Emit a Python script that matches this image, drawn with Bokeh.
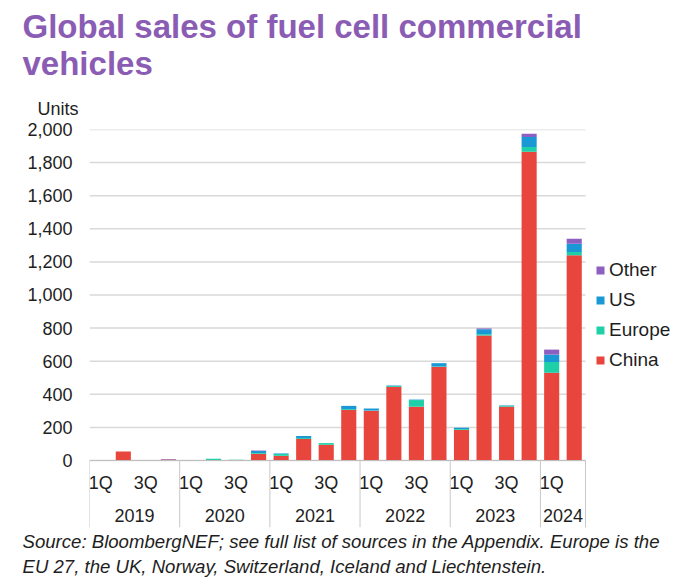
from bokeh.plotting import figure
from bokeh.models import (ColumnDataSource, FixedTicker, Legend, LegendItem,
                          NumeralTickFormatter, Range1d, Title)
from bokeh.embed import file_html
from bokeh.resources import INLINE
from bokeh.core.properties import value

# ---------------- data ----------------
years = ["2019", "2020", "2021", "2022", "2023", "2024"]
quarters_per_year = [4, 4, 4, 4, 4, 2]
quarter_names = ["1Q", "", "3Q", ""]
y_ticks = [0, 200, 400, 600, 800, 1000, 1200, 1400, 1600, 1800, 2000]

china  = [0, 55, 0, 6,   2, 2, 3, 40,   28, 130, 95, 305,   300, 445, 325, 565,   185, 755, 325, 1865,   530, 1240]
europe = [0, 0, 0, 0,    0, 8, 2, 5,    12, 6, 10, 5,       2, 5, 40, 3,          5, 8, 5, 30,           65, 20]
us     = [0, 0, 0, 0,    0, 0, 0, 12,   3, 12, 0, 20,       12, 3, 3, 20,         8, 30, 3, 60,          45, 50]
other  = [0, 0, 0, 3,    0, 0, 0, 3,    0, 0, 0, 0,         0, 0, 0, 0,           0, 5, 0, 20,           30, 30]

series = ["China", "Europe", "US", "Other"]
colors = ["#e8453c", "#1ecfa8", "#1a98d5", "#8c5fc0"]

# ---------------- derived positions ----------------
n = len(china)
x_pos = [i + 0.5 for i in range(n)]
source = ColumnDataSource(dict(x=x_pos, China=china, Europe=europe, US=us, Other=other))

bounds = [0]
for q in quarters_per_year:
    bounds.append(bounds[-1] + q)
year_centers = [(bounds[i] + bounds[i + 1]) / 2 for i in range(len(years))]

q_x, q_text = [], []
for yi, q in enumerate(quarters_per_year):
    for k in range(q):
        if quarter_names[k]:
            q_x.append(bounds[yi] + k + 0.5)
            q_text.append(quarter_names[k])

Y_BOTTOM = -405
FONT = "Liberation Sans"
TXT = "#1e1e1e"
PLOT_W = 496          # pixel width of the bar area
FRAME_W = 586         # frame extends to the right edge to hold the legend
X_END = bounds[-1] * FRAME_W / PLOT_W

p = figure(width=675, height=580, frame_width=FRAME_W, frame_height=398,
           output_backend="svg", toolbar_location=None,
           x_range=Range1d(0, X_END), y_range=Range1d(Y_BOTTOM, 2000),
           min_border_left=89, min_border_right=0, min_border_top=129, min_border_bottom=53,
           title=None)
p.outline_line_color = None
p.xaxis.visible = False
p.xgrid.visible = False
p.ygrid.visible = False
p.background_fill_color = "white"
p.border_fill_color = "white"

p.yaxis.ticker = FixedTicker(ticks=y_ticks)
p.yaxis.formatter = NumeralTickFormatter(format="0,0")
p.yaxis.axis_line_color = None
p.yaxis.major_tick_line_color = None
p.yaxis.minor_tick_line_color = None
p.yaxis.major_label_standoff = 11
p.yaxis.major_label_text_font = FONT
p.yaxis.major_label_text_font_size = "18px"
p.yaxis.major_label_text_color = TXT

# horizontal gridlines limited to the bar area
p.segment(x0=[0] * len(y_ticks), y0=y_ticks, x1=[bounds[-1]] * len(y_ticks), y1=y_ticks,
          line_color="#d9d9d9", line_width=1.5)

renderers = p.vbar_stack(series, x="x", width=0.67, color=colors, source=source, line_color=None)

# category axis drawn inside the extended frame
p.segment(x0=[bounds[0]], y0=[0], x1=[bounds[-1]], y1=[0], line_color="#bfbfbf", line_width=1)
p.segment(x0=bounds, y0=[0] * len(bounds), x1=bounds, y1=[Y_BOTTOM] * len(bounds),
          line_color="#c8c8c8", line_width=1)
p.text(x=q_x, y=[-135] * len(q_x), text=q_text, text_align="center", text_baseline="middle",
       text_font=value(FONT), text_font_size="18px", text_color=TXT)
p.text(x=year_centers, y=[-335] * len(years), text=years, text_align="center", text_baseline="middle",
       text_font=value(FONT), text_font_size="18px", text_color=TXT)

legend = Legend(items=[LegendItem(label=series[i], renderers=[renderers[i]]) for i in [3, 2, 1, 0]],
                location=(506, 156))
legend.border_line_color = None
legend.background_fill_alpha = 0
legend.margin = 0
legend.padding = 11
legend.glyph_width = 10
legend.glyph_height = 10
legend.label_standoff = 4
legend.label_height = 20
legend.spacing = 8
legend.label_text_font = FONT
legend.label_text_font_size = "19px"
legend.label_text_color = TXT
p.add_layout(legend)

title_color = "#8a5cb4"
units_title = Title(text="Units", align="left", offset=-52, text_font=FONT, text_font_size="18px",
                    text_font_style="normal", text_color=TXT, standoff=21)
main_title = Title(text="Global sales of fuel cell commercial\nvehicles", align="left", offset=-67,
                   text_font=FONT, text_font_size="33px", text_font_style="bold",
                   text_color=title_color, text_line_height=1.0, standoff=10)
p.add_layout(units_title, "above")
p.add_layout(main_title, "above")

source_title = Title(text="Source: BloombergNEF; see full list of sources in the Appendix. Europe is the\n"
                          "EU 27, the UK, Norway, Switzerland, Iceland and Liechtenstein.",
                     align="left", offset=-67, text_font=FONT, text_font_size="18.6px",
                     text_font_style="italic", text_color=TXT, text_line_height=1.17, standoff=3)
p.add_layout(source_title, "below")

open("out.html", "w").write(file_html(p, INLINE))
